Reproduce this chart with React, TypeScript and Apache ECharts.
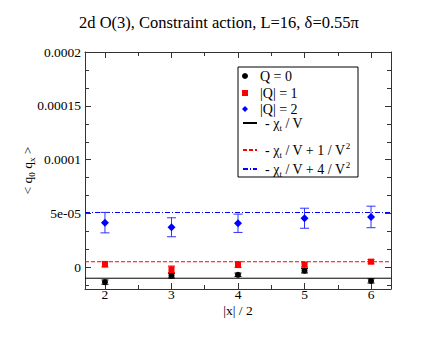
import React, { useEffect, useRef } from 'react';
import * as echarts from 'echarts';

const xValues = [2, 3, 4, 5, 6];
const q0Values = [-1.36e-5, -0.78e-5, -0.68e-5, -0.31e-5, -1.25e-5];
const q0Errors = [0.2e-5, 0.2e-5, 0.16e-5, 0.2e-5, 0.2e-5];
const q1Values = [0.3e-5, -0.17e-5, 0.26e-5, 0.26e-5, 0.54e-5];
const q1Errors = [0.26e-5, 0.3e-5, 0.27e-5, 0.23e-5, 0.2e-5];
const q2Values = [4.16e-5, 3.73e-5, 4.1e-5, 4.57e-5, 4.69e-5];
const q2Errors = [0.95e-5, 0.88e-5, 0.85e-5, 0.93e-5, 1.0e-5];

const chiLine = -1.0e-5;
const chiLinePlus1 = 0.53e-5;
const chiLinePlus4 = 5.1e-5;

const xMin = 1.7;
const xMax = 6.3;
const yMin = -2e-5;
const yMax = 2e-4;

const xTickValues = [2, 3, 4, 5, 6];
const xMinorTickValues = [2.5, 3.5, 4.5, 5.5];
const yTickValues = [0, 0.00005, 0.0001, 0.00015, 0.0002];
const yTickLabels = ['0', '5e-05', '0.0001', '0.00015', '0.0002'];
const yMinorTickValues = [
  -0.00005 / 3,
  0.00005 / 3, 0.0001 / 3,
  0.00005 + 0.00005 / 3, 0.00005 + 0.0001 / 3,
  0.0001 + 0.00005 / 3, 0.0001 + 0.0001 / 3,
  0.00015 + 0.00005 / 3, 0.00015 + 0.0001 / 3,
];

const legendNames = ['Q = 0', '|Q| = 1', '|Q| = 2', 'chi', 'chi1', 'chi4'];
const legendLabels: Record<string, string> = {
  'Q = 0': '{g| }{t|Q = 0}',
  '|Q| = 1': '{g| }{t||Q| = 1}',
  '|Q| = 2': '{g| }{t||Q| = 2}',
  chi: '{g| }{t|- χ}{sub|t}{t| / V}',
  chi1: '{g| }{t|- χ}{sub|t}{t| / V + 1 / V}{sup|2}',
  chi4: '{g| }{t|- χ}{sub|t}{t| / V + 4 / V}{sup|2}',
};
const legendIcons: (string | undefined)[] = [
  undefined,
  'path://M0,0L10,0L10,10L0,10Z',
  'path://M5,0L10,5L5,10L0,5Z',
  undefined, undefined, undefined,
];
const legendRowCenters = [78, 95, 111, 125, 150, 169];

const FONT = 'Liberation Serif, DejaVu Serif, serif';
const AXIS_COLOR = '#333';

function errorBarSeries(name: string, ys: number[], errs: number[], color: string, cap: number) {
  return {
    type: 'custom',
    name,
    data: xValues.map((x, i) => [x, ys[i], errs[i]]),
    encode: { x: 0, y: 1 },
    silent: true,
    z: 2,
    renderItem: (params: any, api: any) => {
      const x = api.value(0);
      const y = api.value(1);
      const e = api.value(2);
      const top = api.coord([x, y + e]);
      const bot = api.coord([x, y - e]);
      const style = { stroke: color, lineWidth: 1, fill: 'none' };
      return {
        type: 'group',
        children: [
          { type: 'line', shape: { x1: top[0], y1: top[1], x2: bot[0], y2: bot[1] }, style },
          { type: 'line', shape: { x1: top[0] - cap, y1: top[1], x2: top[0] + cap, y2: top[1] }, style },
          { type: 'line', shape: { x1: bot[0] - cap, y1: bot[1], x2: bot[0] + cap, y2: bot[1] }, style },
        ],
      };
    },
  };
}

function lineSeries(name: string, v: number, color: string, type: any) {
  return {
    type: 'line',
    name,
    data: [[xMin, v], [xMax, v]],
    symbol: 'none',
    silent: true,
    z: 1,
    lineStyle: { color, width: 1, type },
    itemStyle: { color },
  };
}

function scatterSeries(name: string, ys: number[], color: string, symbol: string, size: number) {
  return {
    type: 'scatter',
    name,
    data: xValues.map((x, i) => [x, ys[i]]),
    symbol,
    symbolSize: size,
    itemStyle: { color, opacity: 1 },
    z: 3,
    silent: true,
  };
}

const richText = {
  g: { fontFamily: FONT, fontSize: 14, width: 3, lineHeight: 18, verticalAlign: 'middle' },
  t: { fontFamily: FONT, fontSize: 14, color: '#000', lineHeight: 18, verticalAlign: 'middle' },
  sub: { fontFamily: FONT, fontSize: 9, color: '#000', lineHeight: 18, verticalAlign: 'bottom' },
  sup: { fontFamily: FONT, fontSize: 9, color: '#000', lineHeight: 18, verticalAlign: 'top' },
};

function App() {
  const ref = useRef<HTMLDivElement>(null);
  useEffect(() => {
    if (!ref.current) return;
    const chart = echarts.init(ref.current, null, { renderer: 'svg' });

    const hiddenLine = { show: false, onZero: false };
    const frameLine = { show: true, onZero: false, lineStyle: { color: AXIS_COLOR, width: 1 } };
    const axisBase = {
      type: 'value',
      splitLine: { show: false },
      axisLine: hiddenLine,
      axisLabel: { show: false },
    };

    const xAxes = [
      {
        ...axisBase,
        min: xMin, max: xMax, position: 'bottom',
        axisLine: frameLine,
        axisTick: { show: true, inside: true, length: 6, customValues: xTickValues, lineStyle: { color: AXIS_COLOR } },
        axisLabel: {
          show: true, customValues: xTickValues, margin: 0, lineHeight: 11,
          fontFamily: FONT, fontSize: 13.5, color: '#000',
        },
        name: '|x| / 2', nameLocation: 'middle', nameGap: 16, nameMoveOverlap: false,
        nameTextStyle: { fontFamily: FONT, fontSize: 13.5, color: '#000', verticalAlign: 'top', lineHeight: 11 },
      },
      {
        ...axisBase,
        min: xMin, max: xMax, position: 'bottom',
        axisTick: { show: true, inside: true, length: 4, customValues: xMinorTickValues, lineStyle: { color: AXIS_COLOR } },
      },
      {
        ...axisBase,
        min: xMin, max: xMax, position: 'top',
        axisLine: frameLine,
        axisTick: { show: true, inside: true, length: 6, customValues: xTickValues, lineStyle: { color: AXIS_COLOR } },
      },
      {
        ...axisBase,
        min: xMin, max: xMax, position: 'top',
        axisTick: { show: true, inside: true, length: 4, customValues: xMinorTickValues, lineStyle: { color: AXIS_COLOR } },
      },
    ];

    const yAxes = [
      {
        ...axisBase,
        min: yMin, max: yMax, position: 'left',
        axisLine: frameLine,
        axisTick: { show: true, inside: true, length: 6, customValues: yTickValues, lineStyle: { color: AXIS_COLOR } },
        axisLabel: {
          show: true, customValues: yTickValues, margin: 4,
          fontFamily: FONT, fontSize: 13.5, color: '#000',
          formatter: (v: number) => {
            let best = 0;
            yTickValues.forEach((t, i) => {
              if (Math.abs(t - v) < Math.abs(yTickValues[best] - v)) best = i;
            });
            return yTickLabels[best];
          },
        },
        name: '< q{s|0} q{s|x} >', nameLocation: 'middle', nameGap: 49, nameMoveOverlap: false,
        nameTextStyle: {
          fontFamily: FONT, fontSize: 13.5, color: '#000',
          rich: {
            s: { fontFamily: FONT, fontSize: 9, color: '#000', verticalAlign: 'bottom', lineHeight: 17 },
          },
          lineHeight: 17,
        },
      },
      {
        ...axisBase,
        min: yMin, max: yMax, position: 'left',
        axisTick: { show: true, inside: true, length: 4, customValues: yMinorTickValues, lineStyle: { color: AXIS_COLOR } },
      },
      {
        ...axisBase,
        min: yMin, max: yMax, position: 'right',
        axisLine: frameLine,
        axisTick: { show: true, inside: true, length: 6, customValues: yTickValues, lineStyle: { color: AXIS_COLOR } },
      },
      {
        ...axisBase,
        min: yMin, max: yMax, position: 'right',
        axisTick: { show: true, inside: true, length: 4, customValues: yMinorTickValues, lineStyle: { color: AXIS_COLOR } },
      },
    ];

    const legends = legendNames.map((n, i) => {
      const isSymbol = i < 3;
      const item: any = { name: n };
      if (legendIcons[i]) item.icon = legendIcons[i];
      return {
        show: true,
        data: [item],
        orient: 'vertical',
        left: 242,
        top: legendRowCenters[i] - 9,
        padding: 0,
        itemWidth: 14,
        itemHeight: 6,
        itemGap: 0,
        selectedMode: false,
        symbolKeepAspect: true,
        z: 10,
        itemStyle: isSymbol ? {} : { opacity: 0, borderWidth: 0 },
        formatter: (name: string) => legendLabels[name],
        textStyle: { fontFamily: FONT, fontSize: 14, color: '#000', rich: richText },
      };
    });

    chart.setOption({
      animation: false,
      backgroundColor: '#fff',
      title: {
        text: '2d O(3), Constraint action, L=16, δ=0.55π',
        left: 74,
        top: 9,
        textStyle: { fontFamily: FONT, fontSize: 16.5, fontWeight: 'normal', color: '#000' },
      },
      grid: { left: 85, right: 50, top: 52, bottom: 52, containLabel: false },
      xAxis: xAxes,
      yAxis: yAxes,
      legend: legends,
      graphic: [
        {
          type: 'rect',
          shape: { x: 238, y: 67, width: 120, height: 110 },
          style: { fill: '#fff', stroke: '#000', lineWidth: 1 },
          z: 5,
          silent: true,
        },
      ],
      series: [
        lineSeries('chi', chiLine, '#000', 'solid'),
        lineSeries('chi1', chiLinePlus1, '#ff0000', [4, 2]),
        lineSeries('chi4', chiLinePlus4, '#0000ff', [5, 2, 1, 2]),
        errorBarSeries('err0', q0Values, q0Errors, '#000', 3.5),
        errorBarSeries('err1', q1Values, q1Errors, '#ff0000', 3.5),
        errorBarSeries('err2', q2Values, q2Errors, '#3030ff', 4.5),
        scatterSeries('Q = 0', q0Values, '#000', 'circle', 6),
        scatterSeries('|Q| = 1', q1Values, '#ff0000', 'rect', 6),
        scatterSeries('|Q| = 2', q2Values, '#0000ff', 'diamond', 8),
      ],
    });
    return () => chart.dispose();
  }, []);
  return <div ref={ref} style={{ position: 'fixed', left: 0, top: 0, width: 441, height: 341 }} />;
}

export default App;
